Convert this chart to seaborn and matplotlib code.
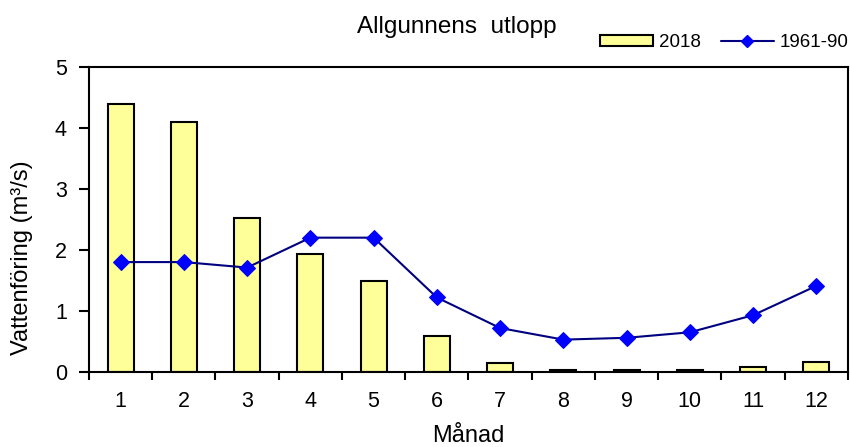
import numpy as np
import pandas as pd
import matplotlib
matplotlib.use("Agg")
import matplotlib.pyplot as plt
import seaborn as sns
from matplotlib.patches import Patch
from matplotlib.lines import Line2D

# Monthly data
months = [str(m) for m in range(1, 13)]
flow_2018 = [4.39, 4.09, 2.53, 1.93, 1.49, 0.59, 0.14, 0.03, 0.03, 0.03, 0.08, 0.17]
flow_1961_90 = [1.80, 1.80, 1.71, 2.20, 2.20, 1.22, 0.72, 0.53, 0.56, 0.65, 0.93, 1.41]

df = pd.DataFrame({"month": months, "y2018": flow_2018, "ref": flow_1961_90})

sns.set_theme(style="white")
plt.rcParams['font.family'] = ['Liberation Sans', 'DejaVu Sans']
plt.rcParams['text.color'] = 'black'
plt.rcParams['xtick.color'] = 'black'
plt.rcParams['ytick.color'] = 'black'

fig = plt.figure(figsize=(8.5, 4.47), dpi=100)
ax = fig.add_axes([0.1047, 0.1678, 0.8929, 0.683])

# Bars for 2018
sns.barplot(data=df, x="month", y="y2018", color="#FFFF99", saturation=1,
            width=0.41, edgecolor="black", linewidth=1.5, ax=ax)

# Line for 1961-90
sns.lineplot(x=np.arange(12), y=df["ref"], color="#000080", linewidth=1.5,
             marker="D", markersize=8, markerfacecolor="#0000FF",
             markeredgecolor="#0000FF", ax=ax)

ax.set_xlim(-0.5, 11.5)
ax.set_ylim(0, 5)
ax.set_yticks(range(6))
ax.set_xticks(np.arange(12))
ax.set_xticklabels(months)
ax.set_xticks(np.arange(-0.5, 12, 1), minor=True)
ax.tick_params(axis="x", which="major", length=0, pad=14, labelsize=15.5)
ax.tick_params(axis="x", which="minor", length=6, width=1.5, direction="out",
               bottom=True)
ax.tick_params(axis="y", length=7, width=1.5, direction="out", left=True,
               pad=9, labelsize=15.5)
for s in ax.spines.values():
    s.set_color("black")
    s.set_linewidth(1.5)

ax.set_xlabel("")
ax.set_ylabel("")
fig.text(0.551, 0.024, "Månad", ha="center", va="center", fontsize=17)
fig.text(0.026, 0.424, "Vattenföring (m³/s)", ha="center", va="center",
         rotation=90, fontsize=17)
fig.text(0.538, 0.94, "Allgunnens  utlopp", ha="center", va="center",
         fontsize=17.5)

handles = [
    Patch(facecolor="#FFFF99", edgecolor="black", linewidth=1.5),
    Line2D([0], [0], color="#000080", linewidth=1.5, marker="D",
           markersize=6, markerfacecolor="#0000FF", markeredgecolor="#0000FF"),
]
fig.legend(handles, ["2018", "1961-90"], ncol=2, frameon=False,
           loc="center right", bbox_to_anchor=(1.014, 0.904), fontsize=13.5,
           handlelength=2.83, handleheight=0.55, columnspacing=1.07,
           handletextpad=0.32, borderpad=0.2)

fig.savefig("out.png", dpi=100)
